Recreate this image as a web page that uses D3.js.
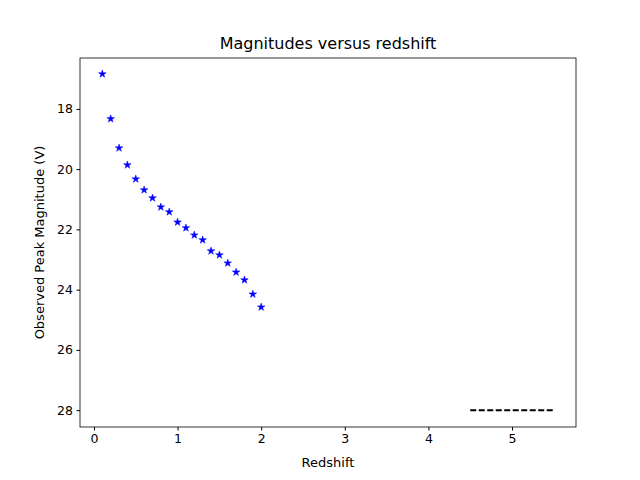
<!DOCTYPE html>
<html><head><meta charset="utf-8">
<script src="https://cdn.jsdelivr.net/npm/d3@7"></script>
<style>body{margin:0;background:#fff}text{font-family:"DejaVu Sans",sans-serif}</style>
</head><body><svg id="c" width="640" height="480"></svg>
<script>
const redshift=[0.1,0.2,0.3,0.4,0.5,0.6,0.7,0.8,0.9,1.0,1.1,1.2,1.3,1.4,1.5,1.6,1.7,1.8,1.9,2.0];
const magnitude=[16.84,18.33,19.30,19.86,20.33,20.69,20.96,21.26,21.42,21.76,21.95,22.19,22.35,22.72,22.85,23.12,23.42,23.68,24.15,24.58];
const limitX=[4.5,5.5], limitY=[28,28];
const xTicks=[0,1,2,3,4,5], yTicks=[18,20,22,24,26,28];
const svg=d3.select("#c");
const L=80,R=576,T=58,B=427;
const x=d3.scaleLinear().domain([-0.167,5.765]).range([L,R]);
const y=d3.scaleLinear().domain([16.31,28.56]).range([T,B]);
svg.append("g").attr("transform",`translate(0,${B})`).call(d3.axisBottom(x).tickValues(xTicks).tickFormat(d3.format("d")).tickSize(3.5).tickPadding(3.5))
 .call(g=>g.selectAll("text").attr("font-size",12.5).attr("fill","#000"));
svg.append("g").attr("transform",`translate(${L},0)`).call(d3.axisLeft(y).tickValues(yTicks).tickFormat(d3.format("d")).tickSize(3.5).tickPadding(3.5))
 .call(g=>g.selectAll("text").attr("font-size",12.5).attr("fill","#000"));
svg.selectAll(".domain").remove();
svg.append("rect").attr("x",L).attr("y",T).attr("width",R-L).attr("height",B-T).attr("fill","none").attr("stroke","#000").attr("stroke-width",0.8);
const star=d3.symbol().type(d3.symbolStar).size(18);
svg.selectAll(".p").data(redshift).join("path").attr("d",star)
 .attr("transform",(d,i)=>`translate(${x(d)},${y(magnitude[i])})`).attr("fill","blue").attr("stroke","blue").attr("stroke-width",0.5);
svg.append("path").attr("d",d3.line().x(d=>x(d[0])).y(d=>y(d[1]))(limitX.map((v,i)=>[v,limitY[i]])))
 .attr("stroke","#000").attr("stroke-width",2).attr("stroke-dasharray","6,2.5").attr("fill","none");
svg.append("text").attr("x",(L+R)/2).attr("y",49).attr("text-anchor","middle").attr("font-size",16).text("Magnitudes versus redshift");
svg.append("text").attr("x",(L+R)/2).attr("y",467).attr("text-anchor","middle").attr("font-size",13).text("Redshift");
svg.append("text").attr("transform",`translate(44,${(T+B)/2}) rotate(-90)`).attr("text-anchor","middle").attr("font-size",13).text("Observed Peak Magnitude (V)");
</script></body></html>
